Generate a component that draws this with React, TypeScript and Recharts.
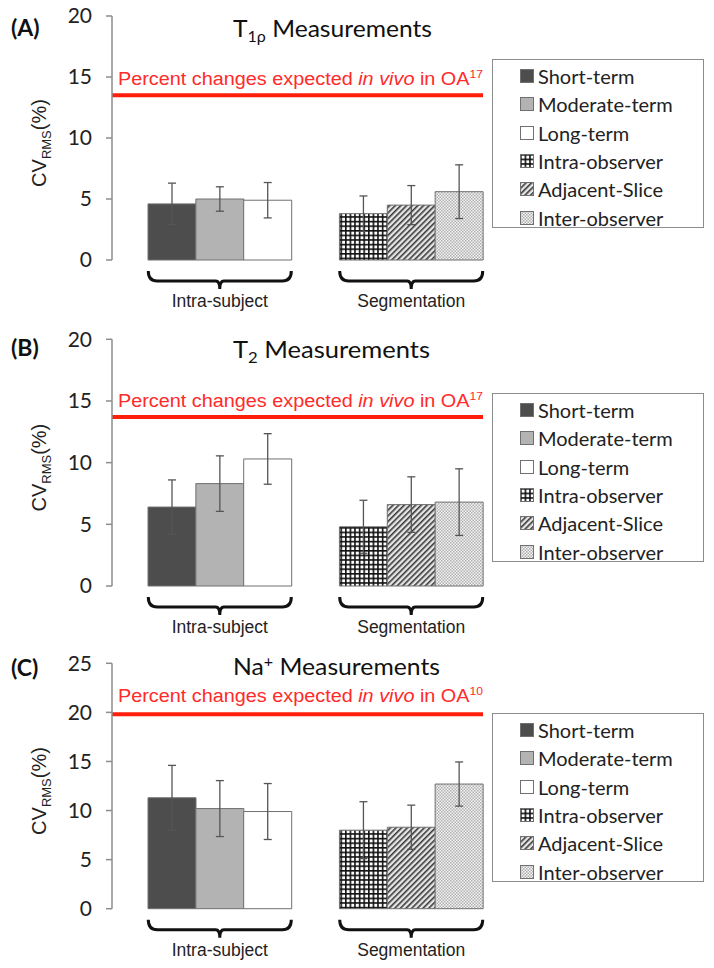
import { BarChart, Bar, Cell, XAxis, YAxis, ErrorBar, ReferenceLine, Legend, Customized, Label } from 'recharts';

// series (same six in every panel)
const categories = ['Short-term', 'Moderate-term', 'Long-term', 'Intra-observer', 'Adjacent-Slice', 'Inter-observer'];
const groupNames = ['Intra-subject', 'Segmentation'];
const groupCenters = ['Moderate-term', 'Adjacent-Slice'];

// (A) T1rho
const t1rhoValues = [4.6, 5.0, 4.9, 3.8, 4.5, 5.6];
const t1rhoErrors = [1.7, 1.0, 1.45, 1.45, 1.6, 2.2];
// (B) T2
const t2Values = [6.4, 8.3, 10.3, 4.8, 6.6, 6.8];
const t2Errors = [2.2, 2.25, 2.05, 2.15, 2.25, 2.7];
// (C) Na+
const naValues = [11.3, 10.2, 9.9, 8.0, 8.3, 12.7];
const naErrors = [3.3, 2.85, 2.85, 2.9, 2.25, 2.25];

const thresholds = [13.5, 13.7, 19.8];
const refNums = ['17', '17', '10'];
const yTicksAB = [0, 5, 10, 15, 20];
const yTicksC = [0, 5, 10, 15, 20, 25];

const panelLetters = ['(A)', '(B)', '(C)'];
const titleBase = ['T', 'T', 'Na'];
const titleSub = ['1ρ', '2', ''];
const titleSup = ['', '', '+'];

// layout per panel
const tops = [0, 320, 640];
const heights = [320, 320, 328];
const marginTops = [16, 19.3, 23.3];
const marginBottoms = [10, 4, 9.3];
const legendTops = [59, 73, 73];
const titleY = [37, 38, 35];
const titleLen = [199, 197, 207];
const refLabelGap = [10, 10.5, 12.5];

function buildRows(values: number[], errors: number[]) {
  const rows: { name: string; value: number | null; err: number | null }[] = [];
  categories.forEach((c, i) => {
    if (i === 3) rows.push({ name: 'gap', value: null, err: null });
    rows.push({ name: c, value: values[i], err: errors[i] });
  });
  return rows;
}

function fillFor(name: string, p: string) {
  switch (name) {
    case 'Short-term': return '#4d4d4d';
    case 'Moderate-term': return '#b3b3b3';
    case 'Long-term': return '#ffffff';
    case 'Intra-observer': return `url(#${p}-grid)`;
    case 'Adjacent-Slice': return `url(#${p}-diag)`;
    case 'Inter-observer': return `url(#${p}-dots)`;
    default: return 'none';
  }
}

function Patterns({ p }: { p: string }) {
  return (
    <defs>
      <pattern id={`${p}-grid`} width={4.6} height={4.6} patternUnits="userSpaceOnUse">
        <rect width={4.6} height={4.6} fill="#fff" />
        <rect width={4.6} height={1.6} fill="#111" />
        <rect width={1.6} height={4.6} fill="#111" />
      </pattern>
      <pattern id={`${p}-diag`} width={4} height={4} patternUnits="userSpaceOnUse" patternTransform="rotate(45)">
        <rect width={4} height={4} fill="#e6e6e6" />
        <rect width={1.6} height={4} fill="#3a3a3a" />
      </pattern>
      <pattern id={`${p}-dots`} width={3} height={3} patternUnits="userSpaceOnUse">
        <rect width={3} height={3} fill="#f4f4f4" />
        <rect width={1.5} height={1.5} fill="#b0b0b0" />
        <rect x={1.5} y={1.5} width={1.5} height={1.5} fill="#b0b0b0" />
      </pattern>
    </defs>
  );
}

// bracket + group label drawn under the middle bar of each group
function GroupTick(props: any) {
  const { x, y, payload } = props;
  const gi = groupCenters.indexOf(payload.value);
  if (gi < 0) return <g />;
  const hw = 71.5;
  const d = `M${x - hw},${y + 9} Q${x - hw},${y + 19} ${x - hw + 9},${y + 19} L${x - 4},${y + 19} Q${x},${y + 19} ${x},${y + 27} Q${x},${y + 19} ${x + 4},${y + 19} L${x + hw - 9},${y + 19} Q${x + hw},${y + 19} ${x + hw},${y + 9}`;
  return (
    <g>
      <path d={d} fill="none" stroke="#111" strokeWidth={3} />
      <text x={x} y={y + 45} textAnchor="middle" fontFamily="Liberation Sans, Arial" fontSize={17.5} fill="#222">
        {groupNames[gi]}
      </text>
    </g>
  );
}

function RefLabel(props: any) {
  const { viewBox, refNum, gap } = props;
  return (
    <text x={viewBox.x + 6} y={viewBox.y - gap} fill="#ff2a2a" fontFamily="Liberation Sans, Arial" fontSize={18}
      textLength={365} lengthAdjust="spacingAndGlyphs">
      Percent changes expected <tspan fontStyle="italic">in vivo</tspan> in OA<tspan fontSize={11} dy={-7}>{refNum}</tspan>
    </text>
  );
}

function YLabel(props: any) {
  const { viewBox } = props;
  const cx = 46;
  const cy = viewBox.y + viewBox.height / 2 + 5;
  return (
    <text transform={`translate(${cx},${cy}) rotate(-90)`} textAnchor="middle" fontFamily="Liberation Sans, Arial" fontSize={20} fill="#222">
      CV<tspan fontSize={13} dy={5}>RMS</tspan><tspan dy={-5}>(%)</tspan>
    </text>
  );
}

function LegendBox({ p }: { p: string }) {
  return (
    <div style={{ border: '1.5px solid #8c8c8c', width: 212, height: 169, boxSizing: 'border-box', background: '#fff', paddingTop: 2 }}>
      {categories.map((c) => (
        <div key={c} style={{ display: 'flex', alignItems: 'center', height: 28.3, paddingLeft: 27 }}>
          <svg width={14} height={14} style={{ marginRight: 4 }}>
            <rect x={0.5} y={0.5} width={13} height={13} fill={fillFor(c, p)} stroke="#707070" />
          </svg>
          <span style={{ fontFamily: 'Lato', fontSize: 20, color: '#222', lineHeight: '28px' }}>{c}</span>
        </div>
      ))}
    </div>
  );
}

function Panel({ idx, values, errors, yTicks }: { idx: number; values: number[]; errors: number[]; yTicks: number[] }) {
  const p = `pn${idx}`;
  const rows = buildRows(values, errors);
  const yMax = yTicks[yTicks.length - 1];
  return (
    <div style={{ position: 'absolute', left: 0, top: tops[idx] }}>
      <BarChart width={714} height={heights[idx]} data={rows} barCategoryGap={0}
        margin={{ top: marginTops[idx], right: 231, bottom: marginBottoms[idx], left: 0 }}>
        <Customized component={() => <Patterns p={p} />} />
        <XAxis dataKey="name" interval={0} axisLine={false} tickLine={false} tickSize={0} height={50}
          padding={{ left: 36, right: 0 }} tick={<GroupTick />} />
        <YAxis width={112} domain={[0, yMax]} ticks={yTicks} interval={0} tickSize={6} tickMargin={14}
          axisLine={{ stroke: '#8c8c8c', strokeWidth: 1.5 }} tickLine={{ stroke: '#8c8c8c', strokeWidth: 1.5 }}
          tick={{ fontFamily: 'Lato', fontSize: 21, fill: '#222' }}>
          <Label content={<YLabel />} />
        </YAxis>
        <Bar dataKey="value" stroke="#707070" strokeWidth={1} isAnimationActive={false}>
          {rows.map((r) => (
            <Cell key={r.name} fill={fillFor(r.name, p)} />
          ))}
          <ErrorBar dataKey="err" width={4} stroke="#555" strokeWidth={1.3} isAnimationActive={false} />
        </Bar>
        <ReferenceLine y={thresholds[idx]} stroke="#ff1e0a" strokeWidth={4}
          label={<RefLabel refNum={refNums[idx]} gap={refLabelGap[idx]} />} />
        <Legend layout="vertical" align="center" verticalAlign="middle"
          wrapperStyle={{ left: 492, top: legendTops[idx], width: 212 }}
          content={() => <LegendBox p={p} />} />
        <Customized component={() => (
          <g>
            <text x={11} y={36} fontFamily="Lato" fontWeight="bold" fontSize={23} fill="#111">{panelLetters[idx]}</text>
            <text x={233} y={titleY[idx]} fontFamily="Lato" fontSize={23} fill="#111"
              textLength={titleLen[idx]} lengthAdjust="spacingAndGlyphs">
              {titleBase[idx]}
              {titleSub[idx] && <tspan fontSize={15} dy={5}>{titleSub[idx]}</tspan>}
              {titleSup[idx] && <tspan fontSize={15} dy={-8}>{titleSup[idx]}</tspan>}
              <tspan dy={titleSub[idx] ? -5 : titleSup[idx] ? 8 : 0}> Measurements</tspan>
            </text>
          </g>
        )} />
      </BarChart>
    </div>
  );
}

export default function App() {
  return (
    <div style={{ position: 'absolute', left: 0, top: 0, width: 714, height: 968, background: '#fff' }}>
      <Panel idx={0} values={t1rhoValues} errors={t1rhoErrors} yTicks={yTicksAB} />
      <Panel idx={1} values={t2Values} errors={t2Errors} yTicks={yTicksAB} />
      <Panel idx={2} values={naValues} errors={naErrors} yTicks={yTicksC} />
    </div>
  );
}
